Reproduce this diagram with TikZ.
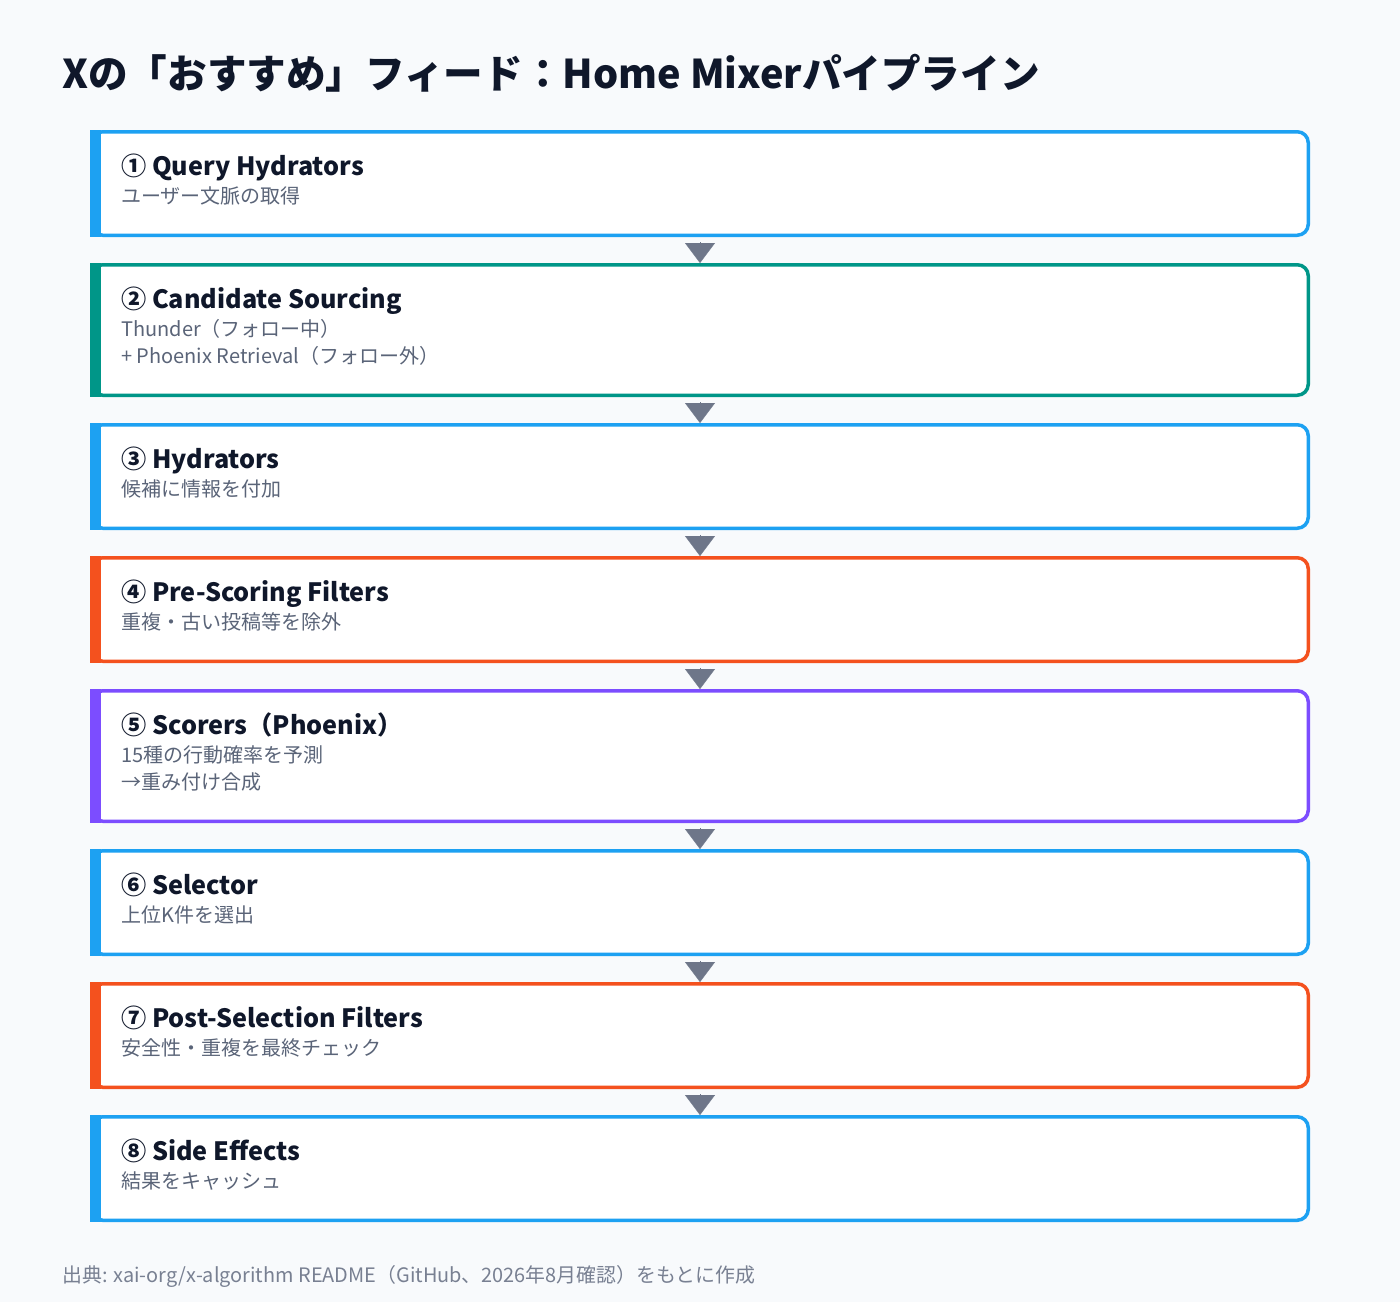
\documentclass[tikz,border=0pt]{standalone}
\usepackage{fontspec}
\setmainfont{Noto Sans CJK JP}
\usetikzlibrary{positioning,arrows.meta}
\definecolor{pagebg}{HTML}{F8FAFC}
\definecolor{xblue}{HTML}{1DA1F2}
\definecolor{xteal}{HTML}{009688}
\definecolor{xorange}{HTML}{F4511E}
\definecolor{xpurple}{HTML}{7C4DFF}
\definecolor{inkdark}{HTML}{0F172A}
\definecolor{inksub}{HTML}{5A6478}
\definecolor{inkfoot}{HTML}{788092}
\definecolor{flowgray}{HTML}{6E7689}
\begin{document}
\begin{tikzpicture}[x=1pt,y=-1pt,
  stage/.style={rectangle,draw=#1,fill=white,line width=3.5pt,
    rounded corners=11pt,minimum width=1216.5pt,minimum height=103.5pt,
    inner sep=0pt,outer sep=1.75pt},
  tall/.style={minimum height=130.5pt},
  head/.style={anchor=base west,inner sep=0pt,text=inkdark,
    font=\fontsize{25.2}{30}\selectfont\bfseries},
  sub/.style={anchor=base west,inner sep=0pt,text=inksub,
    font=\fontsize{20}{27}\selectfont},
  flow/.style={flowgray,line width=0.4pt,-{Triangle[width=30pt,length=20pt]}}]
  % page
  \fill[pagebg] (0,0) rectangle (1400,1302);
  \useasboundingbox (0,0) rectangle (1400,1302);
  % title
  \node[anchor=base west,inner sep=0pt,text=inkdark,
    font=\fontsize{39.6}{44}\selectfont\bfseries] (title) at (62,88)
    {Xの「おすすめ」フィード：Home Mixerパイプライン};
  % stages
  \node[stage=xblue] (s1) at (700,183.5) {};
  \node[stage=xteal,tall,below=26pt of s1] (s2) {};
  \node[stage=xblue,below=26pt of s2] (s3) {};
  \node[stage=xorange,below=26pt of s3] (s4) {};
  \node[stage=xpurple,tall,below=26pt of s4] (s5) {};
  \node[stage=xblue,below=26pt of s5] (s6) {};
  \node[stage=xorange,below=26pt of s6] (s7) {};
  \node[stage=xblue,below=26pt of s7] (s8) {};
  % left bars
  \foreach \n/\c in {s1/xblue,s2/xteal,s3/xblue,s4/xorange,
                     s5/xpurple,s6/xblue,s7/xorange,s8/xblue}
    \fill[\c] (\n.north west) rectangle ([xshift=11pt]\n.south west);
  % texts
  \node[head] (h1) at ([shift={(31pt,-45.5pt)}]s1.north west) {① Query Hydrators};
  \node[sub] (t1) at ([shift={(31pt,-73.5pt)}]s1.north west) {ユーザー文脈の取得};
  \node[head] (h2) at ([shift={(31pt,-45.5pt)}]s2.north west) {② Candidate Sourcing};
  \node[sub] (t2) at ([shift={(31pt,-73.5pt)}]s2.north west) {Thunder（フォロー中）};
  \node[sub] (u2) at ([shift={(31pt,-100.5pt)}]s2.north west) {+ Phoenix Retrieval（フォロー外）};
  \node[head] (h3) at ([shift={(31pt,-45.5pt)}]s3.north west) {③ Hydrators};
  \node[sub] (t3) at ([shift={(31pt,-73.5pt)}]s3.north west) {候補に情報を付加};
  \node[head] (h4) at ([shift={(31pt,-45.5pt)}]s4.north west) {④ Pre-Scoring Filters};
  \node[sub] (t4) at ([shift={(31pt,-73.5pt)}]s4.north west) {重複・古い投稿等を除外};
  \node[head] (h5) at ([shift={(31pt,-45.5pt)}]s5.north west) {⑤ Scorers（Phoenix）};
  \node[sub] (t5) at ([shift={(31pt,-73.5pt)}]s5.north west) {15種の行動確率を予測};
  \node[sub] (u5) at ([shift={(31pt,-100.5pt)}]s5.north west) {→重み付け合成};
  \node[head] (h6) at ([shift={(31pt,-45.5pt)}]s6.north west) {⑥ Selector};
  \node[sub] (t6) at ([shift={(31pt,-73.5pt)}]s6.north west) {上位K件を選出};
  \node[head] (h7) at ([shift={(31pt,-45.5pt)}]s7.north west) {⑦ Post-Selection Filters};
  \node[sub] (t7) at ([shift={(31pt,-73.5pt)}]s7.north west) {安全性・重複を最終チェック};
  \node[head] (h8) at ([shift={(31pt,-45.5pt)}]s8.north west) {⑧ Side Effects};
  \node[sub] (t8) at ([shift={(31pt,-73.5pt)}]s8.north west) {結果をキャッシュ};
  % flow
  \foreach \a/\b in {s1/s2,s2/s3,s3/s4,s4/s5,s5/s6,s6/s7,s7/s8}
    \draw[flow] ([yshift=-5pt]\a.south) -- (\b.north);
  % source
  \node[anchor=base west,inner sep=0pt,text=inkfoot,
    font=\fontsize{19.9}{24}\selectfont] (src) at (62,1282)
    {出典: xai-org/x-algorithm README（GitHub、2026年8月確認）をもとに作成};
\end{tikzpicture}
\end{document}
